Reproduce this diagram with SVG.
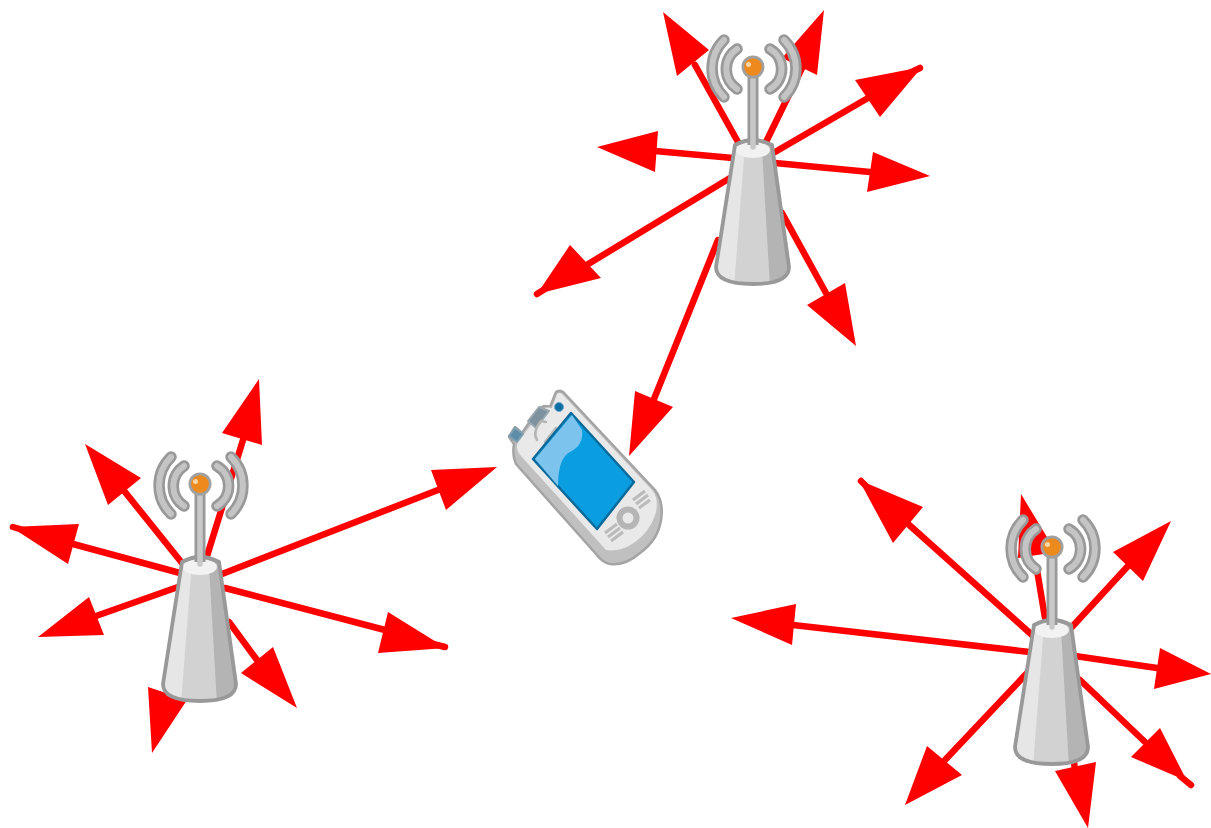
<svg xmlns="http://www.w3.org/2000/svg" width="1211" height="828" viewBox="0 0 1211 828">
<style>
.w{fill:none;stroke:#f00;stroke-width:6.500;stroke-linecap:round}
.h{fill:#f00}
.a1{fill:none;stroke:#999;stroke-width:11.500;stroke-linecap:round}
.a2{fill:none;stroke:#c4c4c4;stroke-width:6;stroke-linecap:round}
.g{fill:none;stroke:#b5b5b5;stroke-width:2.500;stroke-linecap:round}
</style>
<defs>
<clipPath id="bodyClip"><path d="M-18 78Q0 68 19 78L36 200Q36 217 0 217Q-37 217 -37 200Z"/></clipPath>
<g id="tower">
<path d="M-29-27A40 40 0 0 0 -29 30M-16-18A24 24 0 0 0 -16 22M17-18A23 23 0 0 1 17 22M31-27A40 40 0 0 1 31 30" class="a1"/>
<path d="M-29-27A40 40 0 0 0 -29 30M-16-18A24 24 0 0 0 -16 22M17-18A23 23 0 0 1 17 22M31-27A40 40 0 0 1 31 30" class="a2"/>
<g clip-path="url(#bodyClip)">
<rect x="-40" y="65" width="80" height="155" fill="#d2d2d2"/>
<path d="M-40 65H-7L-19 220H-40Z" fill="#e6e6e6"/>
<path d="M40 65H8L17 220H40Z" fill="#b4b4b4"/>
<ellipse cx="0" cy="83" rx="17" ry="8" fill="#f2f2f2"/>
</g>
<path d="M-18 78Q0 68 19 78L36 200Q36 217 0 217Q-37 217 -37 200Z" fill="none" stroke="#999" stroke-width="3.800" stroke-linejoin="round"/>
<rect x="-5.500" y="6" width="11" height="72" fill="#999"/>
<path d="M0 8V80" stroke="#c8c8c8" stroke-width="5.500" stroke-linecap="round" fill="none"/>
<circle r="11.500" fill="#a0a0a0"/>
<circle r="8.800" fill="#ec8a1e"/>
<circle cx="-4.500" cy="-2.500" r="2.500" fill="#f8d6a8"/>
</g>
</defs>
<g id="connectors">
<g id="top-arrows">
<path class="w" d="M695 65L738 142M803 66L766 142M868 98L775 152M870 172L775 163M655 151L733 158M585 266L730 178M826 293L782 213M654 399L718 240M920 68L870 92M537 294L575 270"/>
<path class="h" d="M663 12L677 76L709 50ZM824 10L817 75L782 58ZM922 67L855 80L880 117ZM930 176L873 152L867 192ZM597 147L658 131L655 172ZM537 294L570 245L601 278ZM856 346L807 305L845 283ZM629 456L635 391L673 407Z"/>
</g>
<g id="left-arrows">
<path class="w" d="M207 556L243 440M182 563L125 492M180 573L73 544M178 587L96 616M229 622L257 660M222 574L438 490M225 588L385 630M13 527L30 532M445 647L425 642"/>
<path class="h" d="M259 379L222 433L262 445ZM85 444L108 505L141 478ZM11 527L79 524L68 564ZM38 637L89 597L104 635ZM297 708L273 647L241 673ZM152 753L148 687L187 700ZM497 467L431 470L446 510ZM446 648L388 612L378 653Z"/>
</g>
<g id="right-arrows">
<path class="w" d="M1037 570L1045 618M1071 628L1128 566M1075 656L1157 668M1080 680L1145 742M1073 755L1075 770M1030 670L945 760M1030 652L793 625M1032 635L907 523M1191 785L1180 776M861 481L875 495"/>
<path class="h" d="M1021 494L1018 558L1056 552ZM1171 521L1113 552L1143 581ZM1211 674L1160 648L1154 689ZM1187 781L1160 728L1131 757ZM1088 828L1096 762L1055 771ZM905 805L927 746L962 775ZM731 618L796 604L792 645ZM859 480L893 543L923 507Z"/>
</g>
</g>
<g id="tower-top"><use href="#tower" x="753" y="67"/></g>
<g id="tower-left"><use href="#tower" x="200" y="484"/></g>
<g id="tower-right"><use href="#tower" x="1052" y="547"/></g>
<g id="phone">
<path d="M556 392Q561 389 565 394L655 490Q664 502 661 520Q658 540 640 553Q625 566 610 564Q603 563 596 554L516 464Q512 456 514 444L509 437L515 427L522 433L537 411Q543 404 550 407Z" fill="#c0c0c0" stroke="#a4a4a4" stroke-width="2.500" stroke-linejoin="round"/>
<path d="M557 394Q561 391 564 396L652 490Q659 498 656 512Q650 533 632 544Q620 552 606 550L521 456Q515 449 518 442L525 433L541 412Q546 406 552 408Z" fill="#e9e9e9"/>
<path d="M509 436L515 428L523 434L517 442Z" fill="#5d8ca8" stroke="#7f9fb2" stroke-width="2" stroke-linejoin="round"/>
<path d="M528 421L539 407L549 411L536 428Z" fill="#7d919e" stroke="#9aa8b0" stroke-width="2" stroke-linejoin="round"/>
<circle cx="559" cy="407" r="4.500" fill="#0f6ea6" stroke="#6fa8c8"/>
<path d="M537 440Q532 432 541 421L546 422M545 442L556 428M551 447Q560 445 558 430" class="g"/>
<path d="M571 413L634 482L597 529L533 459Z" fill="#0a9de0" stroke="#0b6a9a" stroke-width="2.500" stroke-linejoin="round"/>
<path d="M572 415L582 430Q584 445 570 452Q558 458 558 486L535 459Z" fill="#7cc4ee"/>
<circle cx="628" cy="518" r="8.500" fill="none" stroke="#b5b5b5" stroke-width="6"/>
<path d="M633 500L645 491M636 504L648 495M639 508L650 500M605 533L617 524M608 537L620 528M611 541L623 532" stroke="#bbb" stroke-width="3.200" fill="none"/>
</g>
</svg>
